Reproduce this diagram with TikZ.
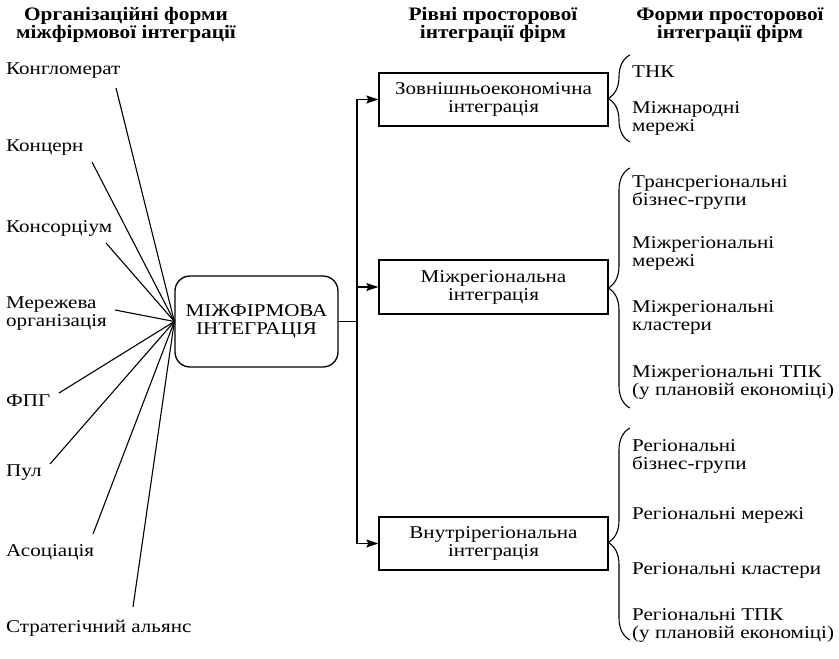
\documentclass[tikz,border=0pt]{standalone}
\usepackage{fontspec}
\setmainfont{Liberation Serif}[FakeStretch=1.17]
\newfontfamily\hdfont{Liberation Serif}[FakeStretch=1.12]
\usetikzlibrary{arrows.meta,decorations.pathreplacing}
\begin{document}
\begin{tikzpicture}[x=1pt,y=-1pt,
  txt/.style={inner sep=0pt, font=\fontsize{18}{18}\selectfont},
  lab/.style={txt, anchor=west, align=left},
  head/.style={inner sep=0pt, align=center, font=\hdfont\fontsize{19}{17}\selectfont\bfseries},
  lvl/.style={txt, draw, line width=1.3pt, minimum width=229pt, minimum height=53pt, align=center},
  ray/.style={line width=1.1pt},
  conn/.style={line width=1.2pt},
  arr/.style={conn, -{Stealth[length=12pt,width=8pt,inset=2pt]}},
  brc/.style={line width=1.1pt, decorate, decoration={brace, amplitude=22pt, raise=0pt}}
]
\useasboundingbox (0,0) rectangle (839,659);

% headers
\node[head] (h1) at (126,25) {Організаційні форми\\міжфірмової інтеграції};
\node[head] (h2) at (493,25) {Рівні просторової\\інтеграції фірм};
\node[head] (h3) at (730,25) {Форми просторової\\інтеграції фірм};

% left labels
\node[lab] (l1) at (6,71) {Конгломерат};
\node[lab] (l2) at (6,148) {Концерн};
\node[lab] (l3) at (6,228) {Консорціум};
\node[lab] (l4) at (6,314) {Мережева\\організація};
\node[lab] (l5) at (6,401) {ФПГ};
\node[lab] (l6) at (6,473) {Пул};
\node[lab] (l7) at (6,552) {Асоціація};
\node[lab] (l8) at (6,628) {Стратегічний альянс};

% centre box
\node[txt, draw, line width=1.3pt, rounded corners=15pt, minimum width=163pt, minimum height=91pt, align=center]
  (mif) at (256.5,321.5) {МІЖФІРМОВА\\ІНТЕГРАЦІЯ};

% ray start points
\coordinate (s1) at (116,88);
\coordinate (s2) at (92,162);
\coordinate (s3) at (106,243);
\coordinate (s4) at (115,310);
\coordinate (s5) at (59,393);
\coordinate (s6) at (50,464);
\coordinate (s7) at (93,534);
\coordinate (s8) at (133,607);
\foreach \i in {1,...,8} \draw[ray] (s\i) -- (mif.west);

% level boxes
\node[lvl] (b1) at (493.5,99.5) {Зовнішньоекономічна\\інтеграція};
\node[lvl, minimum height=54pt] (b2) at (493.5,287) {Міжрегіональна\\інтеграція};
\node[lvl] (b3) at (493.5,543.5) {Внутрірегіональна\\інтеграція};

\coordinate (j) at (357,321.5);
\draw[conn] (mif.east) -- (j);
\draw[arr] (j) |- (b1.west);
\draw[arr] (j) |- (b2.west);
\draw[arr] (j) |- (b3.west);

% braces
\draw[brc] (630,142) -- (630,55);
\draw[brc] (630,408) -- (630,168);
\draw[brc, decoration={aspect=0.46}] (630,640) -- (630,428);

% right texts
\node[lab] (r1) at (632,72) {ТНК};
\node[lab] (r2) at (632,118.5) {Міжнародні\\мережі};
\node[lab] (r3) at (632,192) {Трансрегіональні\\бізнес-групи};
\node[lab] (r4) at (632,253) {Міжрегіональні\\мережі};
\node[lab] (r5) at (632,317) {Міжрегіональні\\кластери};
\node[lab] (r6) at (632,382) {Міжрегіональні ТПК\\(у плановій економіці)};
\node[lab] (r7) at (632,456) {Регіональні\\бізнес-групи};
\node[lab] (r8) at (632,515) {Регіональні мережі};
\node[lab] (r9) at (632,570) {Регіональні кластери};
\node[lab] (r10) at (632,625) {Регіональні ТПК\\(у плановій економіці)};
\end{tikzpicture}
\end{document}
